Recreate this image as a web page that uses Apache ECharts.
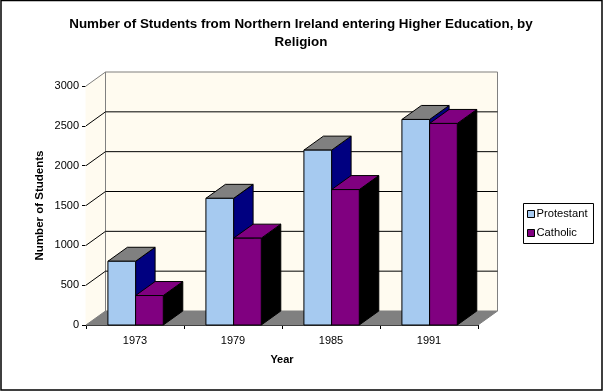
<!DOCTYPE html>
<html>
<head>
<meta charset="utf-8">
<style>html,body{margin:0;padding:0;background:#fff}#c{width:603px;height:391px}</style>
<script src="https://cdn.jsdelivr.net/npm/echarts@6/dist/echarts.min.js"></script>
</head>
<body>
<div id="c"></div>
<script>
const categories = ['1973', '1979', '1985', '1991'];
const protestant = [800, 1590, 2195, 2580];
const catholic = [370, 1090, 1700, 2530];
const yMax = 3000;
const yStep = 500;
const yTicks = [0, 500, 1000, 1500, 2000, 2500, 3000];

const DX = 19.5, DY = 14, BAR_FRACTION = 0.2825, BAR_SHIFT = 0.6;
const FONT = '"Liberation Sans", Arial, sans-serif';

function poly(points, fill, stroke) {
  return { type: 'polygon', shape: { points }, style: { fill, stroke: stroke || fill, lineWidth: 1 } };
}
function line(a, b, stroke) {
  return { type: 'line', shape: { x1: a[0], y1: a[1], x2: b[0], y2: b[1] }, style: { stroke, lineWidth: 1 } };
}
function back(p) { return [p[0] + DX, p[1] - DY]; }

function renderWalls(params, api) {
  const n = categories.length;
  const halfBand = api.size([1, 0])[0] / 2;
  const L = api.coord([0, 0])[0] - halfBand;
  const R = api.coord([n - 1, 0])[0] + halfBand;
  const y0 = api.coord([0, 0])[1];
  const yT = api.coord([0, yMax])[1];
  const wall = '#FFFBF0', edge = '#808080';
  const kids = [
    poly([[L, y0], back([L, y0]), back([L, yT]), [L, yT]], wall),
    poly([back([L, y0]), back([R, y0]), back([R, yT]), back([L, yT])], wall),
    poly([[L, y0], back([L, y0]), back([R, y0]), [R, y0]], edge),
    line(back([L, y0]), back([L, yT]), edge),
    line(back([L, yT]), back([R, yT]), edge),
    line(back([R, yT]), back([R, y0]), edge),
    line([L, yT], back([L, yT]), edge)
  ];
  yTicks.forEach(function (v) {
    if (v === 0 || v === yMax) return;
    const y = api.coord([0, v])[1];
    kids.push(line([L, y], back([L, y]), '#000'));
    kids.push(line(back([L, y]), back([R, y]), '#000'));
  });
  return { type: 'group', children: kids };
}

function barRenderer(offsetSign, front, top, side) {
  return function (params, api) {
    const c = api.coord([api.value(0), api.value(1)]);
    const base = api.coord([api.value(0), 0]);
    const w = api.size([1, 0])[0] * BAR_FRACTION;
    const x0 = (offsetSign < 0 ? c[0] - w : c[0]) + BAR_SHIFT;
    const x1 = x0 + w;
    const yt = c[1], yb = base[1];
    const s = '#000';
    return {
      type: 'group',
      children: [
        poly([[x1, yb], back([x1, yb]), back([x1, yt]), [x1, yt]], side, s),
        poly([[x0, yt], back([x0, yt]), back([x1, yt]), [x1, yt]], top, s),
        poly([[x0, yb], [x1, yb], [x1, yt], [x0, yt]], front, s)
      ]
    };
  };
}

const chart = echarts.init(document.getElementById('c'), null, { renderer: 'canvas' });
chart.setOption({
  animation: false,
  backgroundColor: '#fff',
  graphic: [{
    type: 'rect', silent: true, z: 100,
    shape: { x: 1, y: 0.5, width: 601, height: 389.5 },
    style: { fill: 'none', stroke: '#000', lineWidth: 1.5 }
  }],
  title: {
    text: 'Number of Students from Northern Ireland entering Higher Education, by\nReligion',
    left: 296, top: 10.5, textAlign: 'center',
    textStyle: { fontFamily: FONT, fontSize: 13.4, fontWeight: 'bold', color: '#000', lineHeight: 18 }
  },
  legend: {
    left: 523.5, top: 203.5, orient: 'vertical', itemWidth: 7, itemHeight: 7, itemGap: 8,
    padding: [5, 6, 5, 3.5], borderColor: '#000', borderWidth: 1, backgroundColor: '#fff',
    textStyle: { fontFamily: FONT, fontSize: 11.2, color: '#000', padding: [0, 0, 0, -3] },
    data: [
      { name: 'Protestant', icon: 'rect', itemStyle: { color: '#A6CAF0', borderColor: '#000', borderWidth: 1 } },
      { name: 'Catholic', icon: 'rect', itemStyle: { color: '#800080', borderColor: '#000', borderWidth: 1 } }
    ]
  },
  grid: { left: 86, top: 86, width: 392, height: 239, containLabel: false },
  xAxis: {
    type: 'category', data: categories,
    name: 'Year', nameLocation: 'middle', nameGap: 29,
    nameTextStyle: { fontFamily: FONT, fontSize: 11, fontWeight: 'bold', color: '#000' },
    axisLine: { onZero: false, lineStyle: { color: '#000', width: 1 } },
    axisTick: { show: true, alignWithLabel: false, length: 4, lineStyle: { color: '#000' } },
    axisLabel: { fontFamily: FONT, fontSize: 11, color: '#000', margin: 10 },
    splitLine: { show: false }
  },
  yAxis: {
    type: 'value', min: 0, max: yMax, interval: yStep,
    name: 'Number of Students', nameLocation: 'middle', nameGap: 40, nameRotate: 90, nameMoveOverlap: false,
    nameTextStyle: { fontFamily: FONT, fontSize: 11.5, fontWeight: 'bold', color: '#000' },
    axisLine: { show: true, lineStyle: { color: '#000', width: 1 } },
    axisTick: { show: true, length: 4, lineStyle: { color: '#000' } },
    axisLabel: { fontFamily: FONT, fontSize: 11, color: '#000', margin: 7, formatter: function (v) { return String(v); } },
    splitLine: { show: false }
  },
  series: [
    { type: 'custom', name: 'walls', silent: true, z: 1, renderItem: renderWalls, data: [[0, 0]], encode: { x: 0, y: 1 }, clip: false },
    { type: 'custom', name: 'Protestant', z: 2, renderItem: barRenderer(-1, '#A6CAF0', '#808080', '#000080'),
      itemStyle: { color: '#A6CAF0' }, clip: false, encode: { x: 0, y: 1 },
      data: protestant.map(function (v, i) { return [i, v]; }) },
    { type: 'custom', name: 'Catholic', z: 3, renderItem: barRenderer(1, '#800080', '#800080', '#000000'),
      itemStyle: { color: '#800080' }, clip: false, encode: { x: 0, y: 1 },
      data: catholic.map(function (v, i) { return [i, v]; }) }
  ]
});
</script>
</body>
</html>
